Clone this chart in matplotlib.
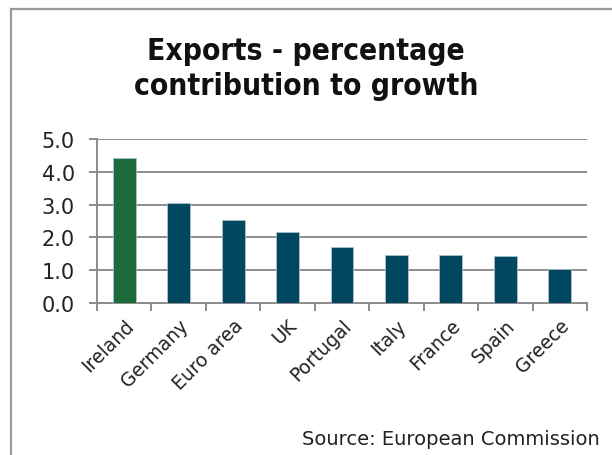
import numpy as np
import matplotlib.pyplot as plt
from matplotlib.patches import Rectangle

plt.rcParams.update({"font.family": ["DejaVu Sans"], "figure.dpi": 100})

countries = ["Ireland", "Germany", "Euro area", "UK", "Portugal",
             "Italy", "France", "Spain", "Greece"]
contribution = [4.42, 3.05, 2.53, 2.17, 1.71, 1.46, 1.46, 1.42, 1.04]
yticks = [0.0, 1.0, 2.0, 3.0, 4.0, 5.0]

GREEN = "#1d6b3b"
BLUE = "#00475f"
GRID = "#8c8c8c"

fig = plt.figure(figsize=(6.12, 4.56))

# outer frame, open on the right and bottom edges
fig.patches.append(Rectangle((11 / 612, -0.1), 1.2, 1.1 - 10 / 456,
                             transform=fig.transFigure, fill=False,
                             edgecolor="#9a9a9a", linewidth=1.6))

ax = fig.add_axes([97 / 612, 1 - 304 / 456, 490 / 612, 164 / 456])
x = np.arange(len(countries))
colors = [GREEN] + [BLUE] * (len(countries) - 1)
ax.bar(x, contribution, width=0.42, color=colors,
       edgecolor="#a9c1cf", linewidth=0.6, zorder=3)

ax.set_xlim(-0.5, len(countries) - 0.5)
ax.set_ylim(0, 5)
ax.set_yticks(yticks)
ax.set_yticklabels([f"{v:.1f}" for v in yticks], fontsize=15, color="#222222")
ax.yaxis.grid(True, color=GRID, linewidth=1.4, zorder=0)
ax.tick_params(axis="y", length=6, width=1.4, color=GRID, pad=10)

# category boundary ticks on the x axis, labels at the bar centres
ax.set_xticks(np.arange(len(countries) + 1) - 0.5)
ax.set_xticklabels([])
ax.set_xticks(x, minor=True)
ax.set_xticklabels(countries, minor=True, rotation=45, ha="right",
                   rotation_mode="anchor", fontsize=13.5, color="#222222")
ax.tick_params(axis="x", which="major", length=6, width=1.4, color=GRID)
ax.tick_params(axis="x", which="minor", length=0, pad=9)

for side in ["top", "right"]:
    ax.spines[side].set_visible(False)
for side in ["left", "bottom"]:
    ax.spines[side].set_color(GRID)
    ax.spines[side].set_linewidth(1.4)

fig.text(0.5, 1 - 69 / 456, "Exports - percentage\ncontribution to growth",
         ha="center", va="center", fontsize=21.5, fontweight="bold",
         fontstretch="condensed", linespacing=1.3, color="#111111")
fig.text(600 / 612, 1 - 440 / 456, "Source: European Commission",
         ha="right", va="center", fontsize=14, color="#222222")

fig.savefig("out.png", dpi=100)
